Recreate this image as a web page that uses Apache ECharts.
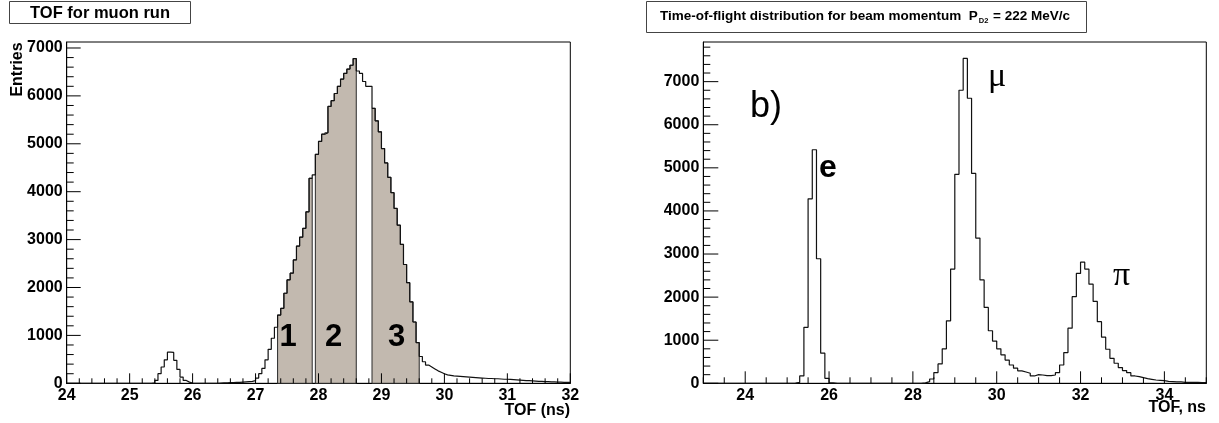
<!DOCTYPE html>
<html>
<head>
<meta charset="utf-8">
<script src="https://cdn.jsdelivr.net/npm/echarts@6.0.0/dist/echarts.min.js"></script>
<style>
html, body { margin: 0; padding: 0; background: #fff; }
#chart { width: 1219px; height: 423px; }
</style>
</head>
<body>
<div id="chart"></div>
<script>
// left panel: muon run, 0.05 ns bins starting at 24 ns
const muonStart = 24
const muonBinWidth = 0.05
const muonCounts = [
    0, 0, 0, 0, 0, 0, 0, 0, 0, 0,
    0, 0, 0, 0, 0, 0, 0, 0, 0, 0,
    0, 0, 0, 0, 0, 0, 0, 10, 60, 200,
    340, 490, 650, 645, 480, 290, 130, 60, 25, 5,
    0, 0, 0, 0, 0, 0, 0, 0, 5, 10,
    10, 15, 15, 20, 20, 25, 30, 35, 40, 55,
    110, 200, 310, 490, 710, 940, 1170, 1425, 1565, 1880,
    2160, 2300, 2575, 2865, 3050, 3235, 3580, 4280, 4350, 4780,
    5050, 5200, 5230, 5780, 5900, 6050, 6200, 6350, 6470, 6560,
    6640, 6780, 6520, 6470, 6300, 6200, 6200, 5740, 5480, 5250,
    4900, 4600, 4300, 3980, 3650, 3300, 2900, 2480, 2100, 1700,
    1280, 850, 560, 450, 380, 340, 300, 260, 230, 200,
    175, 165, 155, 150, 145, 140, 135, 130, 125, 120,
    115, 110, 105, 100, 100, 95, 95, 90, 85, 85,
    80, 75, 70, 65, 60, 55, 55, 50, 45, 40,
    40, 35, 35, 30, 30, 25, 25, 20, 20, 20,
]

// shaded TOF windows 1, 2, 3 (ns)
const windowStarts = [27.35, 27.95, 28.85]
const windowEnds = [27.9, 28.6, 29.6]
const windowLabels = ['1', '2', '3']

// right panel: beam at 222 MeV/c, 0.1 ns bins starting at 23 ns
const beamStart = 23
const beamBinWidth = 0.1
const beamCounts = [
    0, 0, 0, 0, 0, 0, 0, 0, 0, 0,
    0, 0, 0, 0, 0, 0, 0, 0, 0, 0,
    0, 5, 20, 170, 1300, 4280, 5420, 2890, 700, 115,
    10, 0, 0, 0, 0, 0, 0, 0, 0, 0,
    0, 0, 0, 0, 0, 0, 0, 0, 0, 0,
    0, 0, 10, 40, 100, 250, 450, 800, 1450, 2650,
    4850, 6800, 7540, 6615, 4870, 3370, 2400, 1760, 1220, 980,
    800, 660, 540, 425, 350, 290, 263, 232, 170, 200,
    193, 178, 178, 193, 247, 425, 712, 1280, 2010, 2550,
    2810, 2650, 2300, 1900, 1430, 1070, 790, 580, 465, 365,
    295, 247, 170, 155, 130, 108, 93, 77, 70, 62,
    46, 39, 31, 31, 23, 23, 23, 23, 15, 15,
]

const leftXTicks = [24, 25, 26, 27, 28, 29, 30, 31, 32]
const leftYTicks = [0, 1000, 2000, 3000, 4000, 5000, 6000, 7000]
const rightXTicks = [24, 26, 28, 30, 32, 34]
const rightYTicks = [0, 1000, 2000, 3000, 4000, 5000, 6000, 7000]

const FONT = 'Liberation Sans, Arial, sans-serif'

function minorTicks(lo, hi, step, majors) {
    const out = []
    const n = Math.round((hi - lo) / step)
    for (let i = 0; i <= n; i++) {
        const v = Math.round((lo + i * step) * 1000) / 1000
        if (!majors.some((m) => Math.abs(m - v) < 1e-6)) out.push(v)
    }
    return out
}

// histogram outline: one point per bin edge, drawn as a step line
function stepPoints(start, width, counts) {
    const pts = counts.map((c, i) => [start + i * width, c])
    pts.push([start + counts.length * width, counts[counts.length - 1]])
    return pts
}

function valueAxis(gridIndex, min, max, majors) {
    return {
        type: 'value',
        gridIndex,
        min,
        max,
        axisLine: { show: true, lineStyle: { color: '#000', width: 1 } },
        axisTick: { show: false },
        axisLabel: {
            show: true,
            customValues: majors,
            formatter: (v) => String(v),
            margin: 4,
            color: '#000',
            fontSize: 16,
            fontWeight: 'bold',
            fontFamily: FONT,
        },
        splitLine: { show: false },
    }
}

// inward ROOT-style ticks, placed through the axis scales
// item: [value, onYAxis, isMajor]
function tickSeries(axisIndex, xMin, yMin, xMaj, xMin2, yMaj, yMin2, xLens, yLens) {
    const data = [
        ...xMaj.map((v) => [v, 0, 1]),
        ...xMin2.map((v) => [v, 0, 0]),
        ...yMaj.map((v) => [v, 1, 1]),
        ...yMin2.map((v) => [v, 1, 0]),
    ]
    return {
        type: 'custom',
        xAxisIndex: axisIndex,
        yAxisIndex: axisIndex,
        silent: true,
        clip: false,
        z: 5,
        data,
        renderItem: function (params, api) {
            const v = api.value(0)
            const onY = api.value(1) === 1
            const major = api.value(2) === 1
            if (!onY) {
                const p = api.coord([v, yMin])
                const len = major ? xLens[0] : xLens[1]
                return { type: 'line', shape: { x1: p[0], y1: p[1], x2: p[0], y2: p[1] - len }, style: { stroke: '#000', lineWidth: 1 } }
            }
            const p = api.coord([xMin, v])
            const len = major ? yLens[0] : yLens[1]
            return { type: 'line', shape: { x1: p[0], y1: p[1], x2: p[0] + len, y2: p[1] }, style: { stroke: '#000', lineWidth: 1 } }
        },
    }
}

const chart = echarts.init(document.getElementById('chart'), null, { renderer: 'canvas' })

const option = {
    animation: false,
    backgroundColor: '#fff',
    grid: [
        { left: 66.7, right: 648.7, top: 42, bottom: 39.7, show: true, borderColor: '#000', borderWidth: 1 },
        { left: 703.3, right: 12.7, top: 42, bottom: 39.7, show: true, borderColor: '#000', borderWidth: 1 },
    ],
    xAxis: [valueAxis(0, 24, 32, leftXTicks), valueAxis(1, 23, 35, rightXTicks)],
    yAxis: [valueAxis(0, 0, 7125, leftYTicks), valueAxis(1, 0, 7920, rightYTicks)],
    series: [
        {
            type: 'custom',
            name: 'windows',
            xAxisIndex: 0,
            yAxisIndex: 0,
            silent: true,
            z: 1,
            data: windowStarts.map((s, i) => [s, windowEnds[i]]),
            encode: { x: [0, 1] },
            renderItem: function (params, api) {
                const s = api.value(0)
                const e = api.value(1)
                const k0 = Math.round((s - muonStart) / muonBinWidth)
                const k1 = Math.round((e - muonStart) / muonBinWidth)
                const pts = [api.coord([s, 0])]
                for (let k = k0; k < k1; k++) {
                    pts.push(api.coord([muonStart + k * muonBinWidth, muonCounts[k]]))
                    pts.push(api.coord([muonStart + (k + 1) * muonBinWidth, muonCounts[k]]))
                }
                pts.push(api.coord([e, 0]))
                return {
                    type: 'polygon',
                    shape: { points: pts },
                    style: { fill: '#c2b9af', stroke: '#2a2a2a', lineWidth: 1 },
                }
            },
        },
        {
            type: 'line',
            name: 'TOF for muon run',
            xAxisIndex: 0,
            yAxisIndex: 0,
            step: 'end',
            symbol: 'none',
            z: 3,
            data: stepPoints(muonStart, muonBinWidth, muonCounts),
            lineStyle: { color: '#111', width: 1.2 },
        },
        {
            type: 'line',
            name: 'beam TOF',
            xAxisIndex: 1,
            yAxisIndex: 1,
            step: 'end',
            symbol: 'none',
            z: 3,
            data: stepPoints(beamStart, beamBinWidth, beamCounts),
            lineStyle: { color: '#111', width: 1.2 },
        },
        tickSeries(0, 24, 0, leftXTicks, minorTicks(24, 32, 0.2, leftXTicks),
            leftYTicks, minorTicks(0, 7000, 200, leftYTicks), [10, 5], [14, 7]),
        tickSeries(1, 23, 0, rightXTicks, minorTicks(23, 35, 0.5, rightXTicks),
            rightYTicks, minorTicks(0, 7800, 200, rightYTicks), [12, 6], [15, 7]),
    ],
    graphic: [
        // left title box
        { type: 'rect', shape: { x: 9.5, y: 1.5, width: 181, height: 22 }, style: { fill: '#fff', stroke: '#444', lineWidth: 1 } },
        {
            type: 'text', x: 100, y: 13,
            style: { text: 'TOF for muon run', font: 'bold 16.5px ' + FONT, fill: '#000', align: 'center', verticalAlign: 'middle' },
        },
        // right title box
        { type: 'rect', shape: { x: 646.5, y: 1.5, width: 440, height: 31 }, style: { fill: '#fff', stroke: '#444', lineWidth: 1 } },
        {
            type: 'text', x: 660, y: 16,
            style: {
                text: '{a|Time-of-flight distribution for beam momentum  P}{s|D2}{a| = 222 MeV/c}',
                align: 'left',
                verticalAlign: 'middle',
                rich: {
                    a: { fontSize: 13.5, fontWeight: 'bold', fontFamily: FONT, fill: '#000' },
                    s: { fontSize: 7.5, fontWeight: 'bold', fontFamily: FONT, fill: '#000', padding: [10, 1, 0, 1] },
                },
            },
        },
        // axis titles
        {
            type: 'text', x: 18, y: 69.5, rotation: Math.PI / 2,
            style: { text: 'Entries', font: 'bold 16px ' + FONT, fill: '#000', align: 'center', verticalAlign: 'middle' },
        },
        {
            type: 'text', x: 570, y: 411,
            style: { text: 'TOF (ns)', font: 'bold 16px ' + FONT, fill: '#000', align: 'right', verticalAlign: 'middle' },
        },
        {
            type: 'text', x: 1206, y: 408,
            style: { text: 'TOF, ns', font: 'bold 16px ' + FONT, fill: '#000', align: 'right', verticalAlign: 'middle' },
        },
        // window numbers
        ...windowLabels.map((t, i) => ({
            type: 'text', x: [288, 333.5, 396.5][i], y: 337, z: 10,
            style: { text: t, font: 'bold 31px ' + FONT, fill: '#000', align: 'center', verticalAlign: 'middle' },
        })),
        // right panel annotations
        {
            type: 'text', x: 750, y: 107,
            style: { text: 'b)', font: '36px ' + FONT, fill: '#000', align: 'left', verticalAlign: 'middle' },
        },
        {
            type: 'text', x: 828, y: 168,
            style: { text: 'e', font: 'bold 32px ' + FONT, fill: '#000', align: 'center', verticalAlign: 'middle' },
        },
        {
            type: 'text', x: 997, y: 77,
            style: { text: 'μ', font: '34px Liberation Serif, serif', fill: '#000', align: 'center', verticalAlign: 'middle' },
        },
        {
            type: 'text', x: 1121.5, y: 276,
            style: { text: 'π', font: '34px Liberation Serif, serif', fill: '#000', align: 'center', verticalAlign: 'middle' },
        },
    ],
}

chart.setOption(option)
</script>
</body>
</html>
